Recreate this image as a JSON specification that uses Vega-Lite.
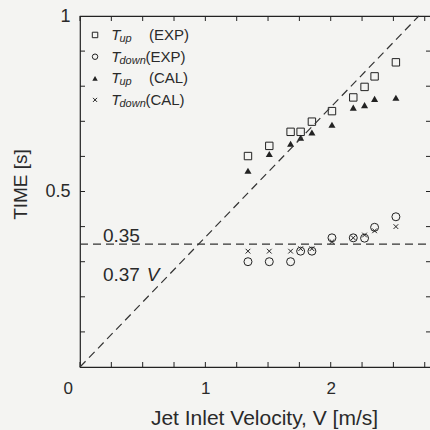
{
  "$schema": "https://vega.github.io/schema/vega-lite/v6.json",
  "width": 351,
  "height": 351,
  "autosize": {"type": "none"},
  "padding": {"left": 80, "top": 16, "right": 0, "bottom": 63},
  "background": "#f4f4f2",
  "config": {
    "view": {"stroke": "#222222", "strokeWidth": 1.2},
    "font": "Liberation Sans",
    "axis": {
      "grid": false,
      "domain": false,
      "ticks": true,
      "offset": -6,
      "tickOpacity": 0,
      "tickSize": 6,
      "labelColor": "#2a2a2a",
      "titleColor": "#2a2a2a",
      "labelFont": "Liberation Sans",
      "titleFont": "Liberation Sans",
      "titleFontWeight": "normal"
    },
    "text": {"color": "#2a2a2a", "align": "left", "baseline": "middle"},
    "tick": {"color": "#222222", "thickness": 1, "size": 5, "opacity": 1}
  },
  "datasets": {
    "xticks": [
      {"v": 0}, {"v": 0.25}, {"v": 0.5}, {"v": 0.75}, {"v": 1}, {"v": 1.25},
      {"v": 1.5}, {"v": 1.75}, {"v": 2}, {"v": 2.25}, {"v": 2.5}, {"v": 2.75}
    ],
    "yticks": [
      {"v": 0.1}, {"v": 0.2}, {"v": 0.3}, {"v": 0.4}, {"v": 0.5},
      {"v": 0.6}, {"v": 0.7}, {"v": 0.8}, {"v": 0.9}
    ]
  },
  "data": {
    "values": [
      {"V": 1.34, "up_exp": 0.601, "down_exp": 0.300, "up_cal": 0.559, "down_cal": 0.330},
      {"V": 1.51, "up_exp": 0.630, "down_exp": 0.300, "up_cal": 0.607, "down_cal": 0.330},
      {"V": 1.68, "up_exp": 0.670, "down_exp": 0.300, "up_cal": 0.636, "down_cal": 0.330},
      {"V": 1.76, "up_exp": 0.670, "down_exp": 0.330, "up_cal": 0.653, "down_cal": 0.337},
      {"V": 1.85, "up_exp": 0.699, "down_exp": 0.330, "up_cal": 0.668, "down_cal": 0.337},
      {"V": 2.01, "up_exp": 0.729, "down_exp": 0.368, "up_cal": 0.690, "down_cal": 0.357},
      {"V": 2.18, "up_exp": 0.768, "down_exp": 0.368, "up_cal": 0.739, "down_cal": 0.368},
      {"V": 2.27, "up_exp": 0.798, "down_exp": 0.367, "up_cal": 0.746, "down_cal": 0.376},
      {"V": 2.35, "up_exp": 0.828, "down_exp": 0.398, "up_cal": 0.764, "down_cal": 0.388},
      {"V": 2.52, "up_exp": 0.868, "down_exp": 0.428, "up_cal": 0.767, "down_cal": 0.400}
    ]
  },
  "layer": [
    {
      "mark": {"type": "point", "shape": "square", "filled": false, "stroke": "#222222", "strokeWidth": 1, "size": 55, "opacity": 1},
      "encoding": {
        "x": {
          "field": "V", "type": "quantitative",
          "scale": {"domain": [0, 2.8], "nice": false, "zero": true},
          "axis": {
            "orient": "bottom",
            "values": [0, 1, 2],
            "labelExpr": "datum.value == 0 ? '0' : datum.value == 1 ? '1' : datum.value == 2 ? '2' : ''",
            "labelFontSize": 17,
            "labelPadding": 13,
            "labelOffset": {"condition": {"test": "datum.value == 0", "value": -17}, "value": 0},
            "title": "Jet Inlet Velocity, V  [m/s]",
            "titleFontSize": 21,
            "titleX": 184,
            "titleY": 63,
            "titleAlign": "center",
            "titleBaseline": "alphabetic"
          }
        },
        "y": {
          "field": "up_exp", "type": "quantitative",
          "scale": {"domain": [0, 1], "nice": false},
          "axis": {
            "orient": "left",
            "values": [0.5, 1],
            "labelExpr": "datum.value == 0.5 ? '0.5' : datum.value == 1 ? '1' : ''",
            "labelFontSize": 18,
            "labelPadding": 10,
            "title": "TIME  [s]",
            "titleFontSize": 19,
            "titleAngle": 270,
            "titleX": -66,
            "titleY": 168,
            "titleAlign": "center",
            "titleBaseline": "middle"
          }
        }
      }
    },
    {
      "mark": {"type": "point", "shape": "circle", "filled": false, "stroke": "#222222", "strokeWidth": 1, "size": 64, "opacity": 1},
      "encoding": {
        "x": {"field": "V", "type": "quantitative", "axis": null},
        "y": {"field": "down_exp", "type": "quantitative", "axis": null}
      }
    },
    {
      "mark": {"type": "point", "shape": "triangle-up", "filled": true, "fill": "#222222", "size": 50, "opacity": 1},
      "encoding": {
        "x": {"field": "V", "type": "quantitative", "axis": null},
        "y": {"field": "up_cal", "type": "quantitative", "axis": null}
      }
    },
    {
      "mark": {"type": "point", "shape": "M-1,-1L1,1M-1,1L1,-1", "filled": false, "stroke": "#222222", "strokeWidth": 1, "size": 22, "opacity": 1},
      "encoding": {
        "x": {"field": "V", "type": "quantitative", "axis": null},
        "y": {"field": "down_cal", "type": "quantitative", "axis": null}
      }
    },
    {
      "data": {"name": "xticks"},
      "mark": {"type": "tick", "orient": "vertical", "yOffset": -2.5},
      "encoding": {
        "x": {"field": "v", "type": "quantitative", "axis": null},
        "y": {"datum": 0, "type": "quantitative", "axis": null}
      }
    },
    {
      "data": {"name": "xticks"},
      "mark": {"type": "tick", "orient": "vertical", "yOffset": 2.5},
      "encoding": {
        "x": {"field": "v", "type": "quantitative", "axis": null},
        "y": {"datum": 1, "type": "quantitative", "axis": null}
      }
    },
    {
      "data": {"name": "yticks"},
      "mark": {"type": "tick", "orient": "horizontal", "xOffset": 2.5},
      "encoding": {
        "y": {"field": "v", "type": "quantitative", "axis": null},
        "x": {"datum": 0, "type": "quantitative", "axis": null}
      }
    },
    {
      "data": {"name": "yticks"},
      "mark": {"type": "tick", "orient": "horizontal", "xOffset": -2.5},
      "encoding": {
        "y": {"field": "v", "type": "quantitative", "axis": null},
        "x": {"datum": 2.8, "type": "quantitative", "axis": null}
      }
    },
    {
      "data": {"values": [{}]},
      "mark": {"type": "rule", "stroke": "#333333", "strokeWidth": 1.2, "strokeDash": [8, 5]},
      "encoding": {
        "x": {"datum": 0, "type": "quantitative", "axis": null},
        "x2": {"datum": 2.8},
        "y": {"datum": 0.35, "type": "quantitative", "axis": null}
      }
    },
    {
      "data": {"values": [{}]},
      "mark": {"type": "rule", "stroke": "#333333", "strokeWidth": 1.2, "strokeDash": [8, 5]},
      "encoding": {
        "x": {"datum": 0, "type": "quantitative", "axis": null},
        "y": {"datum": 0, "type": "quantitative", "axis": null},
        "x2": {"datum": 2.7027},
        "y2": {"datum": 1}
      }
    },
    {
      "data": {"values": [{}]},
      "mark": {"type": "text", "fontSize": 19},
      "encoding": {
        "x": {"datum": 0.183, "type": "quantitative", "axis": null},
        "y": {"datum": 0.372, "type": "quantitative", "axis": null},
        "text": {"value": "0.35"}
      }
    },
    {
      "data": {"values": [{}]},
      "mark": {"type": "text", "fontSize": 19},
      "encoding": {
        "x": {"datum": 0.183, "type": "quantitative", "axis": null},
        "y": {"datum": 0.262, "type": "quantitative", "axis": null},
        "text": {"value": "0.37"}
      }
    },
    {
      "data": {"values": [{}]},
      "mark": {"type": "text", "fontSize": 19, "fontStyle": "italic"},
      "encoding": {
        "x": {"datum": 0.533, "type": "quantitative", "axis": null},
        "y": {"datum": 0.262, "type": "quantitative", "axis": null},
        "text": {"value": "V"}
      }
    },
    {
      "data": {"values": [{}]},
      "mark": {"type": "point", "shape": "square", "filled": false, "stroke": "#222222", "strokeWidth": 1, "size": 30, "opacity": 1},
      "encoding": {
        "x": {"datum": 0.12, "type": "quantitative", "axis": null},
        "y": {"datum": 0.946, "type": "quantitative", "axis": null}
      }
    },
    {
      "data": {"values": [{}]},
      "mark": {"type": "point", "shape": "circle", "filled": false, "stroke": "#222222", "strokeWidth": 1, "size": 30, "opacity": 1},
      "encoding": {
        "x": {"datum": 0.12, "type": "quantitative", "axis": null},
        "y": {"datum": 0.884, "type": "quantitative", "axis": null}
      }
    },
    {
      "data": {"values": [{}]},
      "mark": {"type": "point", "shape": "triangle-up", "filled": true, "fill": "#222222", "size": 30, "opacity": 1},
      "encoding": {
        "x": {"datum": 0.12, "type": "quantitative", "axis": null},
        "y": {"datum": 0.8225, "type": "quantitative", "axis": null}
      }
    },
    {
      "data": {"values": [{}]},
      "mark": {"type": "point", "shape": "M-1,-1L1,1M-1,1L1,-1", "filled": false, "stroke": "#222222", "strokeWidth": 1, "size": 16, "opacity": 1},
      "encoding": {
        "x": {"datum": 0.12, "type": "quantitative", "axis": null},
        "y": {"datum": 0.761, "type": "quantitative", "axis": null}
      }
    },
    {
      "data": {"values": [{}]},
      "mark": {"type": "text", "fontSize": 15, "fontStyle": "italic"},
      "encoding": {
        "x": {"datum": 0.25, "type": "quantitative", "axis": null},
        "y": {"datum": 0.946, "type": "quantitative", "axis": null},
        "text": {"value": "T"}
      }
    },
    {
      "data": {"values": [{}]},
      "mark": {"type": "text", "fontSize": 15, "fontStyle": "italic"},
      "encoding": {
        "x": {"datum": 0.25, "type": "quantitative", "axis": null},
        "y": {"datum": 0.884, "type": "quantitative", "axis": null},
        "text": {"value": "T"}
      }
    },
    {
      "data": {"values": [{}]},
      "mark": {"type": "text", "fontSize": 15, "fontStyle": "italic"},
      "encoding": {
        "x": {"datum": 0.25, "type": "quantitative", "axis": null},
        "y": {"datum": 0.8225, "type": "quantitative", "axis": null},
        "text": {"value": "T"}
      }
    },
    {
      "data": {"values": [{}]},
      "mark": {"type": "text", "fontSize": 15, "fontStyle": "italic"},
      "encoding": {
        "x": {"datum": 0.25, "type": "quantitative", "axis": null},
        "y": {"datum": 0.761, "type": "quantitative", "axis": null},
        "text": {"value": "T"}
      }
    },
    {
      "data": {"values": [{}]},
      "mark": {"type": "text", "fontSize": 11, "fontStyle": "italic", "dy": 4},
      "encoding": {
        "x": {"datum": 0.315, "type": "quantitative", "axis": null},
        "y": {"datum": 0.946, "type": "quantitative", "axis": null},
        "text": {"value": "up"}
      }
    },
    {
      "data": {"values": [{}]},
      "mark": {"type": "text", "fontSize": 11, "fontStyle": "italic", "dy": 4},
      "encoding": {
        "x": {"datum": 0.315, "type": "quantitative", "axis": null},
        "y": {"datum": 0.884, "type": "quantitative", "axis": null},
        "text": {"value": "down"}
      }
    },
    {
      "data": {"values": [{}]},
      "mark": {"type": "text", "fontSize": 11, "fontStyle": "italic", "dy": 4},
      "encoding": {
        "x": {"datum": 0.315, "type": "quantitative", "axis": null},
        "y": {"datum": 0.8225, "type": "quantitative", "axis": null},
        "text": {"value": "up"}
      }
    },
    {
      "data": {"values": [{}]},
      "mark": {"type": "text", "fontSize": 11, "fontStyle": "italic", "dy": 4},
      "encoding": {
        "x": {"datum": 0.315, "type": "quantitative", "axis": null},
        "y": {"datum": 0.761, "type": "quantitative", "axis": null},
        "text": {"value": "down"}
      }
    },
    {
      "data": {"values": [{}]},
      "mark": {"type": "text", "fontSize": 15},
      "encoding": {
        "x": {"datum": 0.55, "type": "quantitative", "axis": null},
        "y": {"datum": 0.946, "type": "quantitative", "axis": null},
        "text": {"value": "(EXP)"}
      }
    },
    {
      "data": {"values": [{}]},
      "mark": {"type": "text", "fontSize": 15},
      "encoding": {
        "x": {"datum": 0.522, "type": "quantitative", "axis": null},
        "y": {"datum": 0.884, "type": "quantitative", "axis": null},
        "text": {"value": "(EXP)"}
      }
    },
    {
      "data": {"values": [{}]},
      "mark": {"type": "text", "fontSize": 15},
      "encoding": {
        "x": {"datum": 0.55, "type": "quantitative", "axis": null},
        "y": {"datum": 0.8225, "type": "quantitative", "axis": null},
        "text": {"value": "(CAL)"}
      }
    },
    {
      "data": {"values": [{}]},
      "mark": {"type": "text", "fontSize": 15},
      "encoding": {
        "x": {"datum": 0.522, "type": "quantitative", "axis": null},
        "y": {"datum": 0.761, "type": "quantitative", "axis": null},
        "text": {"value": "(CAL)"}
      }
    }
  ],
  "resolve": {"axis": {"x": "independent", "y": "independent"}}
}
